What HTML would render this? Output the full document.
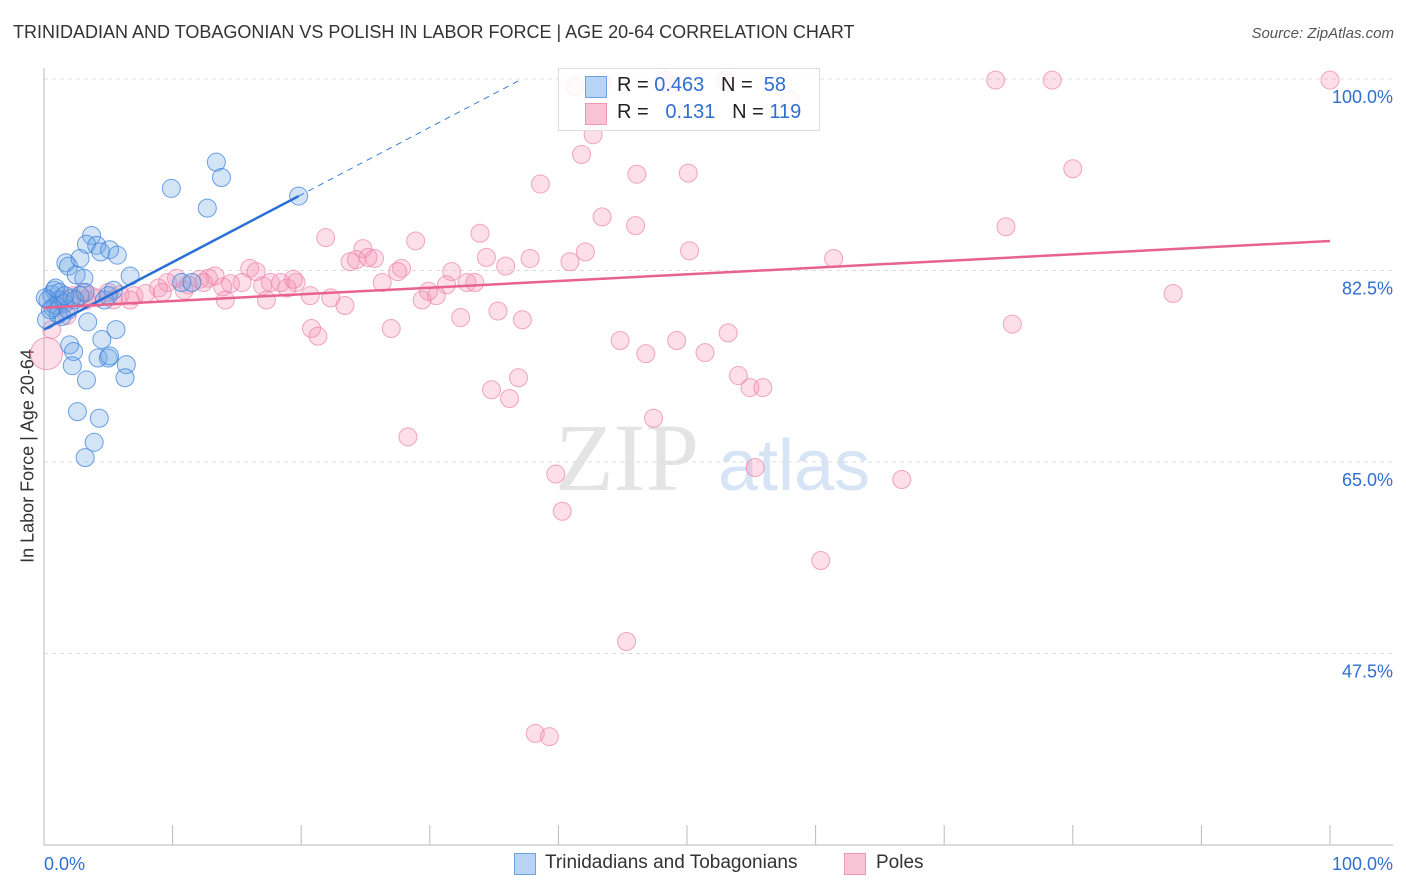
<!DOCTYPE html>
<html><head><meta charset="utf-8"><style>
body{margin:0;background:#fff;font-family:"Liberation Sans",sans-serif;}
#c{position:relative;width:1406px;height:892px;overflow:hidden}
.t{position:absolute;white-space:nowrap}
</style></head><body>
<div id="c">
<div class="t" style="left:13px;top:22px;font-size:18px;color:#333">TRINIDADIAN AND TOBAGONIAN VS POLISH IN LABOR FORCE | AGE 20-64 CORRELATION CHART</div>
<div class="t" style="right:12px;top:25px;font-size:15px;color:#555;font-style:italic">Source: ZipAtlas.com</div>
<div class="t" style="left:28px;top:456px;font-size:18px;color:#333;transform:translate(-50%,-50%) rotate(-90deg)">In Labor Force | Age 20-64</div>
<svg id="s" width="1406" height="892" style="position:absolute;left:0;top:0">
<text x="555" y="490" font-family="Liberation Serif,serif" font-size="96" fill="#e4e4e4">ZIP</text>
<text x="718" y="490" font-family="Liberation Sans,sans-serif" font-size="72" fill="#d6e4f5">atlas</text>
</svg>
<div style="position:absolute;left:558px;top:68px;width:260px;height:61px;border:1px solid #ddd;background:rgba(255,255,255,0.85)">
<div style="position:absolute;left:26px;top:7px;width:20px;height:20px;background:#b9d3f5;border:1px solid #6fa2e4"></div>
<div class="t" style="left:58px;top:5px;font-size:20px;color:#222">R = <span style="color:#2f6fd0">0.463</span>&nbsp;&nbsp;&nbsp;N = &nbsp;<span style="color:#2f6fd0">58</span></div>
<div style="position:absolute;left:26px;top:34px;width:20px;height:20px;background:#f8c4d5;border:1px solid #ef98b5"></div>
<div class="t" style="left:58px;top:32px;font-size:20px;color:#222">R = &nbsp;&nbsp;<span style="color:#2f6fd0">0.131</span>&nbsp;&nbsp;&nbsp;N = <span style="color:#2f6fd0">119</span></div>
</div>
<div style="position:absolute;left:514px;top:853px;width:20px;height:20px;background:#b9d3f5;border:1px solid #6fa2e4"></div>
<div class="t" style="left:545px;top:852px;font-size:19px;color:#333">Trinidadians and Tobagonians</div>
<div style="position:absolute;left:844px;top:853px;width:20px;height:20px;background:#f8c4d5;border:1px solid #ef98b5"></div>
<div class="t" style="left:876px;top:852px;font-size:19px;color:#333">Poles</div>
</div>
<script>
const xTickLabels=["0.0%","100.0%"];
const yTicks=[100,82.5,65,47.5];
const yTickLabels=["100.0%","82.5%","65.0%","47.5%"];
const blueX=[9.9,13.4,13.8,12.7,19.8,3.7,3.3,4.1,4.4,5.1,5.7,1.7,1.9,2.8,2.5,3.1,6.7,0.8,0.6,1.2,0.3,0.9,1.6,2.2,2.8,4.7,5.4,10.7,11.5,1.4,0.2,1.1,3.4,5.6,2.0,2.3,4.5,4.2,5.0,5.1,6.4,6.3,2.2,3.3,2.6,4.3,3.9,3.2,0.7,1.2,1.9,2.4,3.2,0.5,0.1,0.9,1.6,5.0];
const blueY=[90.0,92.4,91.0,88.2,89.3,85.7,84.9,84.8,84.2,84.4,83.9,83.2,82.9,83.6,82.1,81.8,82.0,80.7,80.3,80.5,79.8,79.3,79.5,80.0,80.2,79.8,80.7,81.4,81.4,78.3,78.0,78.5,77.8,77.1,75.7,75.1,76.2,74.5,74.5,74.7,73.9,72.7,73.8,72.5,69.6,69.0,66.8,65.4,79.1,79.8,78.9,79.8,80.5,78.9,80.0,80.9,80.2,80.2];
const pinkX=[48.3,74.0,78.4,100,41.3,43.4,53.0,58.0,48.7,42.7,41.8,38.6,46.1,50.1,80.0,43.4,46.0,74.8,21.9,28.9,33.9,24.8,50.2,61.4,42.1,40.9,34.4,35.9,37.8,25.7,23.8,24.3,25.2,27.8,27.5,26.3,31.7,32.9,33.5,31.3,29.9,30.5,29.4,20.7,22.3,23.4,19.6,18.9,17.6,18.4,19.4,16.0,16.5,17.0,15.4,14.5,13.9,12.8,13.3,12.1,12.4,11.2,10.3,9.6,10.9,8.9,9.2,7.9,7.0,6.7,5.9,5.4,5.0,4.1,3.6,3.3,3.0,2.2,1.6,1.1,1.8,0.6,87.8,20.8,21.3,27.0,32.4,35.3,37.2,44.8,46.8,49.2,51.4,53.2,54.0,54.9,55.9,36.9,34.8,36.2,28.3,47.4,55.3,39.8,66.7,40.3,60.4,45.3,38.2,39.3,75.3,17.3,14.1,0.2];
const pinkY=[99.9,99.9,99.9,99.9,99.3,99.7,99.9,98.1,99.5,94.9,93.1,90.4,91.3,91.4,91.8,87.4,86.6,86.5,85.5,85.2,85.9,84.5,84.3,83.6,84.2,83.3,83.7,82.9,83.6,83.6,83.3,83.5,83.7,82.7,82.4,81.4,82.4,81.4,81.4,81.2,80.6,80.2,79.8,80.2,80.0,79.3,81.4,80.9,81.4,81.4,81.7,82.7,82.4,81.1,81.4,81.3,81.0,81.8,82.0,81.7,81.4,81.2,81.8,81.4,80.7,80.9,80.5,80.4,80.2,79.8,80.3,79.8,80.5,80.0,80.2,79.8,80.5,80.2,79.8,79.3,78.4,77.1,80.4,77.2,76.5,77.2,78.2,78.8,78.0,76.1,74.9,76.1,75.0,76.8,72.9,71.8,71.8,72.7,71.6,70.8,67.3,69.0,64.5,63.9,63.4,60.5,56.0,48.6,40.2,39.9,77.6,79.8,79.8,74.9];
const blueTrend=[77.1,0.616]; // intercept, slope per %
const pinkTrend=[79.1,0.061];
const X=v=>44+v*12.86, Y=v=>79+(100-v)*10.943;
const s=document.getElementById('s'),NS='http://www.w3.org/2000/svg';
function mk(t,a){const e=document.createElementNS(NS,t);for(const k in a)e.setAttribute(k,a[k]);s.appendChild(e);return e;}
yTicks.forEach((v,i)=>{
 const g=mk('line',{x1:44,x2:1393,y1:Y(v),y2:Y(v),stroke:'#ddd','stroke-dasharray':'4,4'});
 
 
 const t=mk('text',{x:1393,y:Y(v)+24,'text-anchor':'end','font-size':18,fill:'#2f6fd0','font-family':'Liberation Sans,sans-serif'});
 t.textContent=yTickLabels[i];
 
 
});
let a=mk('line',{x1:44,x2:1393,y1:845,y2:845,stroke:'#bbb'});


a=mk('line',{x1:44,x2:44,y1:68,y2:845,stroke:'#bbb'});


for(let i=0;i<=10;i++){const tk=mk('line',{x1:X(i*10),x2:X(i*10),y1:825,y2:845,stroke:'#bbb'});
 
 }
[[0,'start',44],[100,'end',1393]].forEach((p,i)=>{const t=mk('text',{x:p[2],y:870,'text-anchor':p[1],'font-size':18,fill:'#2f6fd0','font-family':'Liberation Sans,sans-serif'});t.textContent=xTickLabels[i];
 
 });
pinkX.forEach((x,i)=>{const c=mk('circle',{cx:X(x),cy:Y(pinkY[i]),r:i==pinkX.length-1?16:9,fill:'rgba(244,150,182,0.3)',stroke:'rgba(236,130,168,0.7)'});
 
 });
blueX.forEach((x,i)=>{const c=mk('circle',{cx:X(x),cy:Y(blueY[i]),r:9,fill:'rgba(110,165,230,0.3)',stroke:'rgba(60,130,220,0.75)'});
 
 });
const bx=(100-blueTrend[0])/blueTrend[1];
let l=mk('line',{x1:X(19.8),y1:Y(blueTrend[0]+blueTrend[1]*19.8),x2:X(bx),y2:Y(100),stroke:'#3b7fd8','stroke-width':1,'stroke-dasharray':'6,5'});


l=mk('line',{x1:X(0),y1:Y(blueTrend[0]),x2:X(19.8),y2:Y(blueTrend[0]+blueTrend[1]*19.8),stroke:'#2a6fd6','stroke-width':2.5});


l=mk('line',{x1:X(0),y1:Y(pinkTrend[0]),x2:X(100),y2:Y(pinkTrend[0]+pinkTrend[1]*100),stroke:'#e8628f','stroke-width':2.5});


</script>
</body></html>
